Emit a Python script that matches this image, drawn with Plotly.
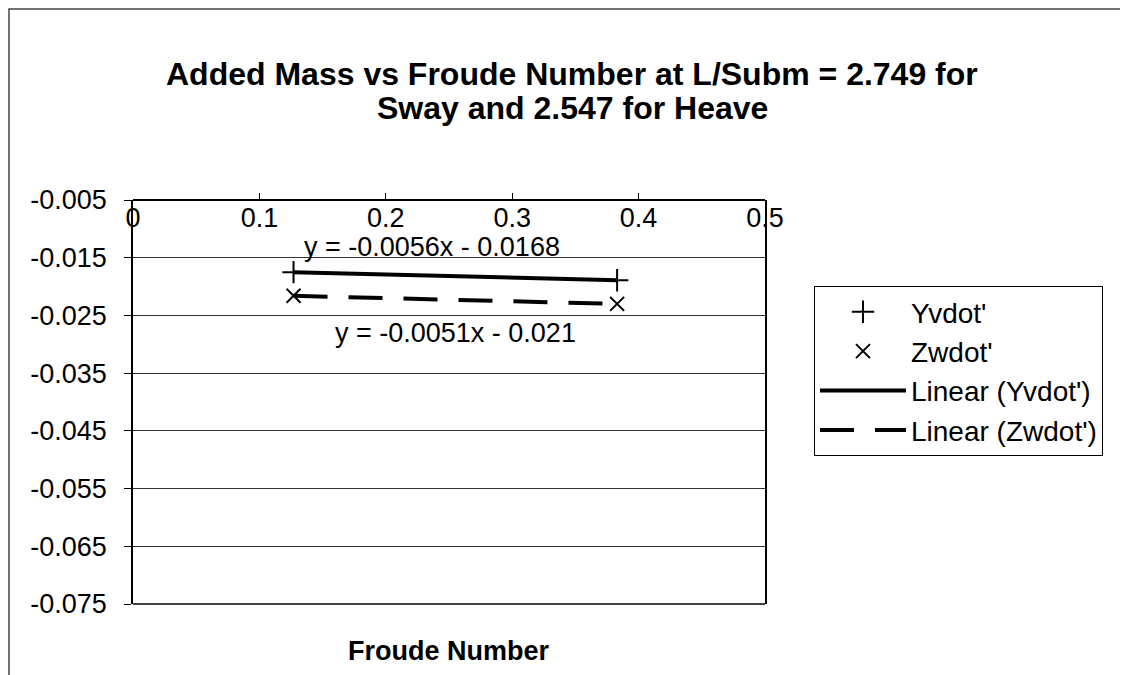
import plotly.graph_objects as go

# ---- data ----
froude = [0.127, 0.383]
yvdot = [-0.0175, -0.0189]
zwdot = [-0.0216, -0.0230]
eq_y = "y = -0.0056x - 0.0168"
eq_z = "y = -0.0051x - 0.021"
x_ticks = [0, 0.1, 0.2, 0.3, 0.4, 0.5]
x_ticktext = ["0", "0.1", "0.2", "0.3", "0.4", "0.5"]
y_ticks = [-0.005, -0.015, -0.025, -0.035, -0.045, -0.055, -0.065, -0.075]
y_ticktext = ["-0.005", "-0.015", "-0.025", "-0.035", "-0.045", "-0.055", "-0.065", "-0.075"]
title_lines = ["Added Mass vs Froude Number at L/Subm = 2.749 for", "Sway and 2.547 for Heave"]

FONT = "Liberation Sans, Arial, sans-serif"

W, H = 1128, 675
L, R, T, B = 125, 757, 192, 596

def px(xp):
    return (xp - L) / (R - L)

def py(yp):
    return (B - yp) / (B - T)

fig = go.Figure()
fig.add_trace(go.Scatter(x=froude, y=yvdot, mode="markers", name="Yvdot'",
                         marker=dict(symbol="cross-thin", size=16, color="black",
                                     line=dict(width=2, color="black"))))
fig.add_trace(go.Scatter(x=froude, y=zwdot, mode="markers", name="Zwdot'",
                         marker=dict(symbol="x-thin", size=14, color="black",
                                     line=dict(width=2, color="black"))))
fig.add_trace(go.Scatter(x=froude, y=yvdot, mode="lines", name="Linear (Yvdot')",
                         line=dict(color="black", width=4)))
fig.add_trace(go.Scatter(x=froude, y=zwdot, mode="lines", name="Linear (Zwdot')",
                         line=dict(color="black", width=4, dash="34px,21px")))

fig.add_annotation(x=0.2365, y=-0.01605, xref="x", yref="y", text=eq_y, showarrow=False,
                   xanchor="center", yanchor="bottom",
                   font=dict(family=FONT, size=27, color="black"))
fig.add_annotation(x=0.255, y=-0.0281, xref="x", yref="y", text=eq_z, showarrow=False,
                   xanchor="center", yanchor="middle",
                   font=dict(family=FONT, size=27, color="black"))

fig.add_annotation(x=0.5, y=py(643), xref="paper", yref="paper",
                   text="<b>Froude Number</b>", showarrow=False,
                   xanchor="center", yanchor="middle",
                   font=dict(family=FONT, size=27, color="black"))

# chart title (two lines)
fig.add_annotation(x=px(564), y=py(66), xref="paper", yref="paper",
                   text="<b>" + title_lines[0] + "</b>", showarrow=False,
                   xanchor="center", yanchor="middle",
                   font=dict(family=FONT, size=32, color="black"))
fig.add_annotation(x=px(564), y=py(100), xref="paper", yref="paper",
                   text="<b>" + title_lines[1] + "</b>", showarrow=False,
                   xanchor="center", yanchor="middle",
                   font=dict(family=FONT, size=32, color="black"))

# outer chart border
fig.add_shape(type="rect", xref="paper", yref="paper",
              x0=px(1), x1=px(1127), y0=py(674), y1=py(1),
              line=dict(color="#444", width=1.5))
# bottom edge of plot area
fig.add_shape(type="line", xref="x domain", yref="y domain", x0=0, x1=1, y0=0, y1=0,
              line=dict(color="black", width=1.5))

fig.update_layout(
    width=W, height=H,
    margin=dict(l=L, r=W - R, t=T, b=H - B),
    paper_bgcolor="white", plot_bgcolor="white",
    font=dict(family=FONT, color="black"),
    legend=dict(x=px(806), y=py(278), xanchor="left", yanchor="top",
                bordercolor="black", borderwidth=1, bgcolor="white",
                font=dict(family=FONT, size=28, color="black"),
                itemwidth=86, tracegroupgap=0),
    showlegend=True,
)
fig.update_xaxes(range=[0, 0.5], tickvals=x_ticks, ticktext=x_ticktext,
                 anchor="free", position=1, side="bottom",
                 ticks="inside", ticklen=6, tickcolor="black", ticklabelstandoff=-6,
                 showline=True, linecolor="black", linewidth=1.5,
                 showgrid=False, zeroline=False,
                 tickfont=dict(family=FONT, size=27, color="black"))
fig.update_yaxes(range=[-0.075, -0.005], tickvals=y_ticks, ticktext=y_ticktext,
                 ticks="outside", ticklen=7, tickcolor="black", ticklabelstandoff=12,
                 showline=True, mirror=True, linecolor="black", linewidth=1.5,
                 showgrid=True, gridcolor="#333", gridwidth=1, zeroline=False,
                 tickfont=dict(family=FONT, size=27, color="black"))

fig.write_html("out.html")
